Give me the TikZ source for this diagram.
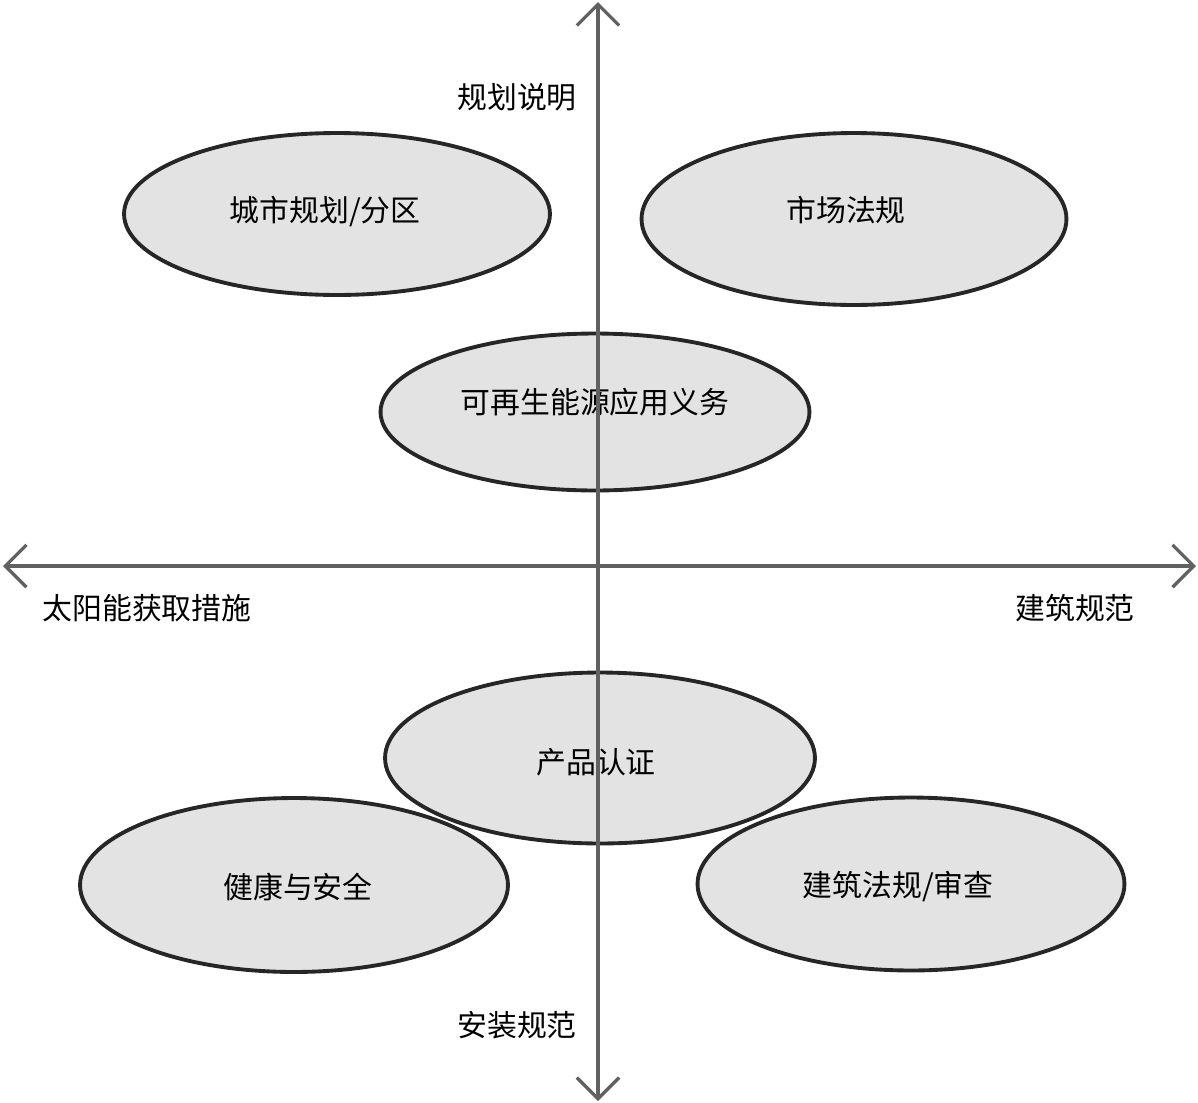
\documentclass[tikz,border=0pt]{standalone}
\usepackage{fontspec}
\setmainfont{Noto Sans CJK SC}
\usetikzlibrary{arrows.meta,shapes.geometric}
\begin{document}
\begin{tikzpicture}[x=0.02cm,y=-0.02cm,
  field/.style={ellipse,draw=black!85,fill=black!11,line width=2.2pt,inner sep=0pt},
  fieldtext/.style={font=\fontsize{17}{20}\selectfont,inner sep=0pt},
  axis/.style={draw=black!62,line width=1.9pt,
    {Straight Barb[length=12pt,width=24pt]}-{Straight Barb[length=12pt,width=24pt]}},
  axlabel/.style={font=\fontsize{17}{20}\selectfont}]
\useasboundingbox (0,0) rectangle (1198,1103);

% fields
\node[field,minimum width=8.52cm,minimum height=3.24cm,
  label={[fieldtext,xshift=-0.24cm,yshift=0.04cm]center:城市规划/分区}] (zoning) at (337,214) {};
\node[field,minimum width=8.5cm,minimum height=3.44cm,
  label={[fieldtext,xshift=-0.16cm,yshift=0.18cm]center:市场法规}] (market) at (854,219) {};
\node[field,minimum width=8.58cm,minimum height=3.14cm,
  label={[fieldtext,yshift=0.2cm]center:可再生能源应用义务}] (duty) at (595,412) {};
\node[field,minimum width=8.6cm,minimum height=3.42cm,
  label={[fieldtext,xshift=-0.08cm,yshift=-0.08cm]center:产品认证}] (cert) at (600,758) {};
\node[field,minimum width=8.56cm,minimum height=3.48cm,
  label={[fieldtext,xshift=0.08cm,yshift=-0.04cm]center:健康与安全}] (health) at (294,885) {};
\node[field,minimum width=8.54cm,minimum height=3.46cm,
  label={[fieldtext,xshift=-0.26cm,yshift=-0.06cm]center:建筑法规/审查}] (review) at (911,884) {};

% axes
\coordinate (top) at (598,2);
\coordinate (bottom) at (598,1101);
\coordinate (left) at (3,566);
\coordinate (right) at (1196,566);
\draw[axis] (bottom) -- (top);
\draw[axis] (left) -- (right);

\node[axlabel] (plan) at (517,97) {规划说明};
\node[axlabel] (solar) at (147,608) {太阳能获取措施};
\node[axlabel] (code) at (1075,608) {建筑规范};
\node[axlabel] (install) at (517,1025) {安装规范};
\end{tikzpicture}
\end{document}
